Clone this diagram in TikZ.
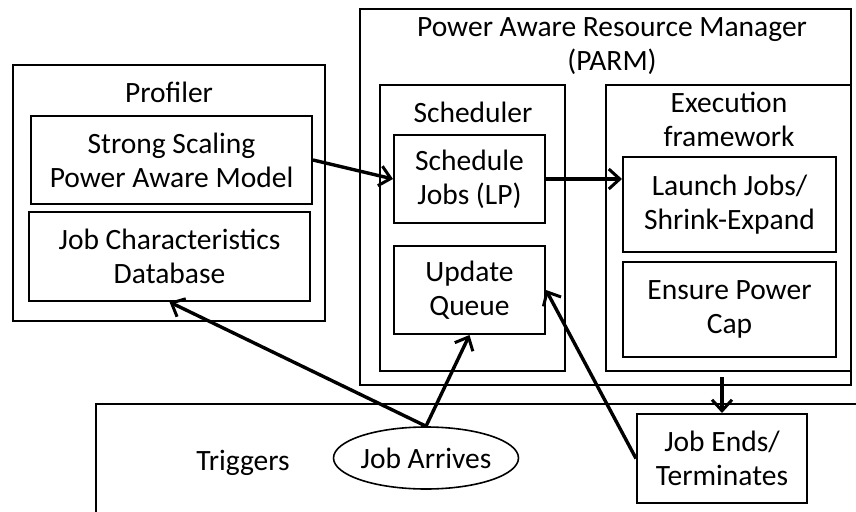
\documentclass[tikz,border=0pt]{standalone}
\usepackage{fontspec}
\setmainfont{Carlito}
\usetikzlibrary{arrows.meta,shapes.geometric}
\tikzset{
  box/.style={draw, line width=2pt, align=center, inner sep=2pt},
  ttl/.style={align=center, inner sep=0pt},
  conn/.style={line width=3.4pt, -{Straight Barb[length=11pt,width=20pt,line width=3pt]}},
}
\begin{document}
\begin{tikzpicture}[x=1pt,y=-1pt,font=\fontsize{29.5}{34}\selectfont]
\useasboundingbox (0,0) rectangle (856,511);
\clip (0,0) rectangle (856,511);
% Profiler
\node[box, minimum width=312pt, minimum height=256pt] (prof) at (169,193) {};
\node[ttl] (proft) at (169,92) {Profiler};
\node[box, minimum width=281pt, minimum height=88pt] (ssm) at (171.5,160) {Strong Scaling\\Power Aware Model};
\node[box, minimum width=281pt, minimum height=89pt] (jcd) at (169.5,256.5) {Job Characteristics\\Database};
% PARM
\node[box, minimum width=491pt, minimum height=376pt] (parm) at (605.5,197) {};
\node[ttl] (parmt) at (612,46) {Power Aware Resource Manager\\(PARM)};
\node[box, minimum width=185pt, minimum height=286pt] (sched) at (472.5,228) {};
\node[ttl] (schedt) at (473,112) {Scheduler};
\node[box, minimum width=151pt, minimum height=88pt] (sj) at (469.5,179) {Schedule\\Jobs (LP)};
\node[box, minimum width=151pt, minimum height=88pt] (uq) at (469.5,290) {Update\\Queue};
\node[box, minimum width=245pt, minimum height=286pt] (exec) at (728.5,228) {};
\node[ttl] (exect) at (729,119) {Execution\\framework};
\node[box, minimum width=213pt, minimum height=95pt] (launch) at (729.5,204.5) {Launch Jobs/\\Shrink-Expand};
\node[box, minimum width=213pt, minimum height=95pt] (cap) at (729.5,309.5) {Ensure Power\\Cap};
% Triggers
\draw[line width=2pt] (96,560) |- (900,404);
\node[ttl] (trig) at (243,463) {Triggers};
\node[draw, line width=1.6pt, ellipse, inner sep=0pt, minimum width=163pt, minimum height=62pt] (ja) at (426,458) {Job Arrives};
\node[box, minimum width=170pt, minimum height=89pt] (je) at (722,458.5) {Job Ends/\\Terminates};
% connectors
\coordinate (dstart) at (722,377);
\draw[conn] (ssm.east) -- (sj.west);
\draw[conn] (sj.east) -- (sj.east -| launch.west);
\draw[conn] (ja.north) -- (jcd.south);
\draw[conn] (ja.north) -- (uq.south);
\draw[conn] (je.west) -- (uq.east);
\draw[conn] (dstart) -- (je.north);
\end{tikzpicture}
\end{document}
